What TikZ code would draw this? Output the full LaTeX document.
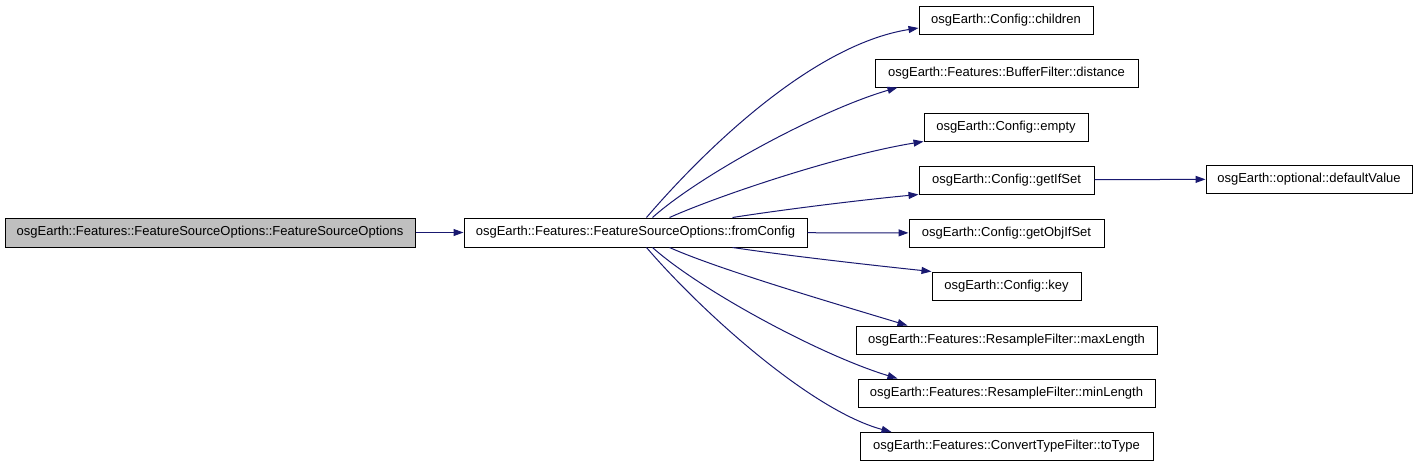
\documentclass[tikz,border=0pt]{standalone}
\usepackage{fontspec}
\setmainfont{Liberation Sans}
\usetikzlibrary{arrows.meta}

\definecolor{callblue}{HTML}{191970}
\tikzset{
  fn/.style={draw=black,line width=1pt,inner sep=2pt,minimum height=28pt,
    font=\fontsize{13}{15}\selectfont},
  call/.style={draw=callblue,line width=1pt,-{Triangle[length=10pt,width=7pt]}}
}

\begin{document}
\begin{tikzpicture}[x=1pt,y=-1pt]
  \useasboundingbox (0,0) rectangle (1419,467);
  \node[fn,fill=black!25,minimum width=410pt,minimum height=29pt] (ctor) at (210,232.5)
    {osgEarth::Features::FeatureSourceOptions::FeatureSourceOptions};
  \node[fn,minimum width=343pt,minimum height=29pt] (fc) at (635.5,232.5)
    {osgEarth::Features::FeatureSourceOptions::fromConfig};
  % callees
  \node[fn,minimum width=174pt] (children) at (1006,20) {osgEarth::Config::children};
  \node[fn,minimum width=263pt] (distance) at (1006.5,73) {osgEarth::Features::BufferFilter::distance};
  \node[fn,minimum width=164pt] (empty) at (1006,127) {osgEarth::Config::empty};
  \node[fn,minimum width=175pt] (getifset) at (1006.5,180) {osgEarth::Config::getIfSet};
  \node[fn,minimum width=195pt] (getobjifset) at (1006.5,233) {osgEarth::Config::getObjIfSet};
  \node[fn,minimum width=149pt] (key) at (1006.5,286) {osgEarth::Config::key};
  \node[fn,minimum width=301pt] (maxlen) at (1006.5,340) {osgEarth::Features::ResampleFilter::maxLength};
  \node[fn,minimum width=297pt] (minlen) at (1006.5,393) {osgEarth::Features::ResampleFilter::minLength};
  \node[fn,minimum width=293pt] (totype) at (1006.5,446.5) {osgEarth::Features::ConvertTypeFilter::toType};
  \node[fn,minimum width=206pt] (defval) at (1309,179) {osgEarth::optional::defaultValue};

  \draw[call] (ctor) -- (fc);
  \draw[call] ([xshift=183pt]fc.north west) .. controls (700,155) and (810,45) .. ([yshift=-8pt]children.west);
  \draw[call] ([xshift=189pt]fc.north west) .. controls (700,175) and (820,110) .. ([xshift=23pt]distance.south west);
  \draw[call] ([xshift=206pt]fc.north west) .. controls (720,195) and (840,155) .. (empty.south west);
  \draw[call] ([xshift=269pt]fc.north west) .. controls (780,210) and (860,200) .. (getifset.south west);
  \draw[call] (fc) -- (getobjifset);
  \draw[call] ([xshift=269pt]fc.south west) .. controls (790,256) and (870,265) .. (key.north west);
  \draw[call] ([xshift=206pt]fc.south west) .. controls (720,270) and (840,305) .. ([xshift=52pt]maxlen.north west);
  \draw[call] ([xshift=189pt]fc.south west) .. controls (700,290) and (820,355) .. ([xshift=40pt]minlen.north west);
  \draw[call] ([xshift=183pt]fc.south west) .. controls (700,310) and (810,410) .. ([xshift=32pt]totype.north west);
  \draw[call] (getifset) -- (defval);
\end{tikzpicture}
\end{document}
